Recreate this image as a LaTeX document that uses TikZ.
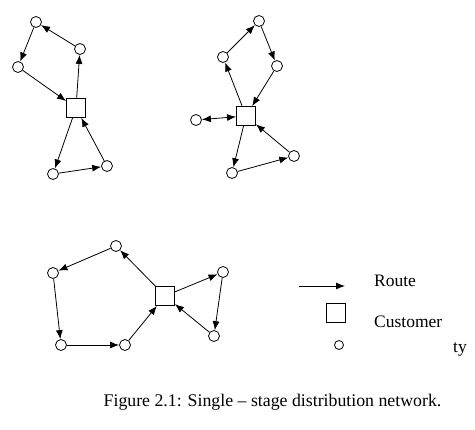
\documentclass[tikz,border=0pt]{standalone}
\usepackage{fontspec}
\setmainfont{Liberation Serif}
\usetikzlibrary{arrows.meta}
\begin{document}
\begin{tikzpicture}[x=1pt,y=-1pt,
  fac/.style={circle,draw,fill=white,line width=0.8pt,minimum size=11pt,inner sep=0pt},
  cust/.style={rectangle,draw,fill=white,line width=0.9pt,minimum size=19pt,inner sep=0pt},
  route/.style={line width=0.8pt,-{Latex[length=9pt,width=7pt]}},
  both/.style={line width=0.8pt,{Latex[length=9pt,width=7pt]}-{Latex[length=9pt,width=7pt]}},
  lbl/.style={anchor=west,inner sep=0pt,font=\fontsize{17.5}{20}\selectfont}]
\useasboundingbox (0,0) rectangle (475,430);
% Panel 1
\node[cust] (s1) at (76,108) {};
\node[fac] (a1) at (36,22) {};
\node[fac] (b1) at (80,49) {};
\node[fac] (c1) at (18,67) {};
\node[fac] (d1) at (53,174) {};
\node[fac] (e1) at (107,166) {};
\draw[route] (s1) -- (b1);
\draw[route] (b1) -- (a1);
\draw[route] (a1) -- (c1);
\draw[route] (c1) -- (s1);
\draw[route] (s1) -- (d1);
\draw[route] (d1) -- (e1);
\draw[route] (e1) -- (s1);
% Panel 2
\node[cust] (s2) at (246,116) {};
\node[fac] (a2) at (259,21) {};
\node[fac] (b2) at (223,57) {};
\node[fac] (c2) at (277,66) {};
\node[fac] (f2) at (196,120) {};
\node[fac] (d2) at (232,173) {};
\node[fac] (e2) at (294,156) {};
\draw[route] (s2) -- (b2);
\draw[route] (b2) -- (a2);
\draw[route] (a2) -- (c2);
\draw[route] (c2) -- (s2);
\draw[both] (f2) -- (s2);
\draw[route] (s2) -- (d2);
\draw[route] (d2) -- (e2);
\draw[route] (e2) -- (s2);
% Panel 3
\node[cust] (s3) at (165,296) {};
\node[fac] (a3) at (116,246) {};
\node[fac] (b3) at (53,273) {};
\node[fac] (c3) at (61,345) {};
\node[fac] (d3) at (125,345) {};
\node[fac] (e3) at (223,272) {};
\node[fac] (g3) at (214,336) {};
\draw[route] (s3) -- (a3);
\draw[route] (a3) -- (b3);
\draw[route] (b3) -- (c3);
\draw[route] (c3) -- (d3);
\draw[route] (d3) -- (s3);
\draw[route] (s3) -- (e3);
\draw[route] (e3) -- (g3);
\draw[route] (g3) -- (s3);
% Legend
\coordinate (r0) at (299,286);
\coordinate (r1) at (345,286);
\draw[route] (r0) -- (r1);
\node[lbl] (lr) at (374,281) {Route};
\node[cust] (ls) at (336,313) {};
\node[lbl] (lc) at (374,322) {Customer};
\node[circle,draw,line width=0.8pt,minimum size=9pt,inner sep=0pt] (lf) at (339,345) {};
\node[lbl] (lt) at (453,349) {ty};
% Caption
\node[inner sep=0pt,font=\fontsize{17.8}{21}\selectfont] (cap) at (272.5,402) {Figure 2.1: Single -- stage distribution network.};
\end{tikzpicture}
\end{document}
